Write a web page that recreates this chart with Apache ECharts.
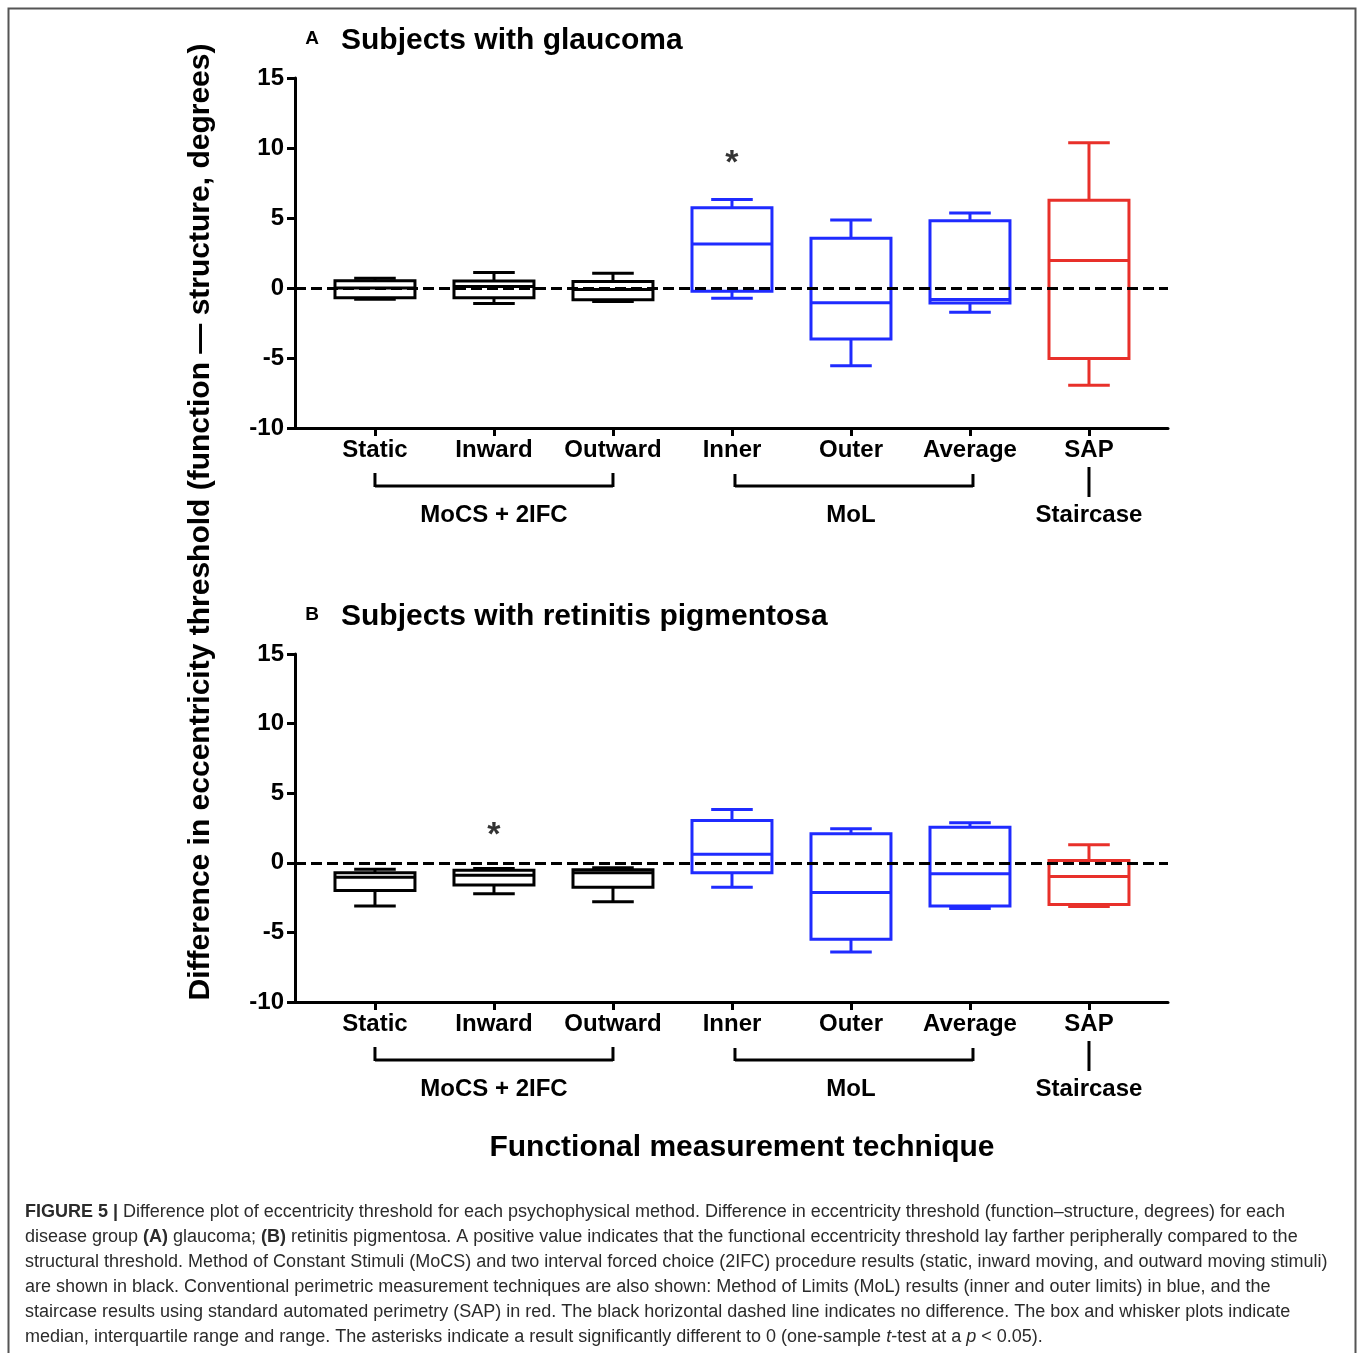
<!DOCTYPE html>
<html>
<head>
<meta charset="utf-8">
<script src="https://cdn.jsdelivr.net/npm/echarts@6/dist/echarts.min.js"></script>
<style>
  html, body { margin: 0; padding: 0; background: #fff; }
  #chart { width: 1358px; height: 1353px; }
</style>
</head>
<body>
<div id="chart"></div>
<script>
// categories along the x axis
const categories = ["Static", "Inward", "Outward", "Inner", "Outer", "Average", "SAP"];
const yTicks = [-10, -5, 0, 5, 10, 15];

// each row: [min, Q1, median, Q3, max]
const glaucoma = [
  [-0.81, -0.69, 0.0, 0.52, 0.69],
  [-1.1, -0.7, 0.1, 0.5, 1.1],
  [-0.96, -0.84, -0.1, 0.46, 1.05],
  [-0.74, -0.24, 3.15, 5.73, 6.33],
  [-5.56, -3.65, -1.05, 3.56, 4.85],
  [-1.74, -1.07, -0.82, 4.8, 5.35],
  [-6.95, -5.04, 1.96, 6.26, 10.37],
];
const retinitis = [
  [-3.11, -1.99, -1.03, -0.72, -0.46],
  [-2.23, -1.6, -0.89, -0.53, -0.41],
  [-2.8, -1.75, -0.72, -0.5, -0.36],
  [-1.75, -0.72, 0.62, 3.04, 3.83],
  [-6.41, -5.5, -2.13, 2.08, 2.44],
  [-3.28, -3.11, -0.79, 2.56, 2.87],
  [-3.14, -2.99, -0.98, 0.17, 1.29],
];

// asterisks: [category number, height]
const sigGlaucoma = [[4, 9.5]];
const sigRetinitis = [[2, 2.6]];

const BLUE = "#1f2bff";
const RED = "#e8302a";
const boxColors = ["#000", "#000", "#000", BLUE, BLUE, BLUE, RED];
const FONT = "'Liberation Sans', Arial, Helvetica, sans-serif";

const chart = echarts.init(document.getElementById("chart"), null, { renderer: "canvas" });

const toBoxData = (rows) => rows.map((r, i) => [i + 1, ...r]);

const renderBox = (params, api) => {
  const x = api.value(0);
  const low = api.coord([x, api.value(1)]);
  const q1 = api.coord([x, api.value(2)]);
  const med = api.coord([x, api.value(3)]);
  const q3 = api.coord([x, api.value(4)]);
  const high = api.coord([x, api.value(5)]);
  const cx = low[0];
  const boxW = api.size([1, 0])[0] * 0.672;
  const capW = boxW * 0.52;
  const color = boxColors[params.dataIndex];
  const st = { stroke: color, lineWidth: 3, fill: null };
  const line = (x1, y1, x2, y2) => ({ type: "line", shape: { x1, y1, x2, y2 }, style: st });
  return {
    type: "group",
    children: [
      line(cx, q3[1], cx, high[1]),
      line(cx - capW / 2, high[1], cx + capW / 2, high[1]),
      line(cx, q1[1], cx, low[1]),
      line(cx - capW / 2, low[1], cx + capW / 2, low[1]),
      { type: "rect", shape: { x: cx - boxW / 2, y: q3[1], width: boxW, height: q1[1] - q3[1] }, style: st },
      line(cx - boxW / 2, med[1], cx + boxW / 2, med[1]),
    ],
  };
};

const grids = [
  { left: 295, top: 78, width: 873, height: 350 },
  { left: 295, top: 654, width: 873, height: 348 },
];

const xAxisCfg = (gi) => ({
  type: "value",
  gridIndex: gi,
  min: 0.328,
  max: 7.664,
  splitLine: { show: false },
  axisLine: { show: true, onZero: false, lineStyle: { color: "#000", width: 3 } },
  axisTick: { show: true, length: 8, customValues: categories.map((c, i) => i + 1), lineStyle: { color: "#000", width: 3 } },
  axisLabel: {
    customValues: categories.map((c, i) => i + 1),
    formatter: (v) => categories[Math.round(v) - 1] || "",
    color: "#000", fontFamily: FONT, fontWeight: "bold", fontSize: 24, margin: 10,
  },
});

const yAxisCfg = (gi) => ({
  type: "value",
  gridIndex: gi,
  min: yTicks[0],
  max: yTicks[yTicks.length - 1],
  interval: 5,
  splitLine: { show: false },
  axisLine: { show: true, lineStyle: { color: "#000", width: 3 } },
  axisTick: { show: true, length: 8, lineStyle: { color: "#000", width: 3 } },
  axisLabel: { color: "#000", fontFamily: FONT, fontWeight: "bold", fontSize: 24, margin: 11 },
});

const zeroLine = (gi) => ({
  type: "line",
  xAxisIndex: gi,
  yAxisIndex: gi,
  data: [],
  silent: true,
  z: 5,
  markLine: {
    silent: true,
    symbol: "none",
    label: { show: false },
    lineStyle: { color: "#000", width: 3, type: [11, 5] },
    data: [{ yAxis: 0 }],
  },
});

const starSeries = (gi, pts) => ({
  type: "scatter",
  xAxisIndex: gi,
  yAxisIndex: gi,
  data: pts,
  symbolSize: 0,
  silent: true,
  label: {
    show: true, position: "inside", formatter: "*", offset: [0, 9],
    color: "#000", fontFamily: FONT, fontWeight: "bold", fontSize: 34,
  },
});

const option = {
  animation: false,
  backgroundColor: "#fff",
  grid: grids,
  xAxis: [xAxisCfg(0), xAxisCfg(1)],
  yAxis: [yAxisCfg(0), yAxisCfg(1)],
  series: [
    { type: "custom", xAxisIndex: 0, yAxisIndex: 0, data: toBoxData(glaucoma), renderItem: renderBox, encode: { x: 0, y: [1, 2, 3, 4, 5] }, z: 3 },
    { type: "custom", xAxisIndex: 1, yAxisIndex: 1, data: toBoxData(retinitis), renderItem: renderBox, encode: { x: 0, y: [1, 2, 3, 4, 5] }, z: 3 },
    zeroLine(0),
    zeroLine(1),
    starSeries(0, sigGlaucoma),
    starSeries(1, sigRetinitis),
  ],
};

chart.setOption(option);

// brackets, titles and caption
const txt = (text, x, y, size, opts = {}) => ({
  type: "text",
  x, y,
  rotation: opts.rotation || 0,
  style: {
    text,
    fill: opts.fill || "#000",
    font: `${opts.weight || "bold"} ${size}px ${FONT}`,
    textAlign: opts.align || "center",
    textVerticalAlign: "middle",
    align: opts.align || "center",
    verticalAlign: "middle",
    rich: opts.rich,
  },
});
const seg = (x1, y1, x2, y2) => ({
  type: "line",
  shape: { x1, y1, x2, y2 },
  style: { stroke: "#000", lineWidth: 3 },
});

const graphics = [
  { type: "rect", shape: { x: 8.5, y: 8.5, width: 1347, height: 1400 }, style: { stroke: "#555", lineWidth: 2, fill: null } },
];

const panelTitles = [["A", "Subjects with glaucoma"], ["B", "Subjects with retinitis pigmentosa"]];
grids.forEach((g, gi) => {
  const px = (v) => chart.convertToPixel({ xAxisIndex: gi }, v);
  const base = g.top + g.height;
  graphics.push(txt(panelTitles[gi][0], 312, g.top - 39, 19));
  graphics.push(txt(panelTitles[gi][1], 341, g.top - 37, 30, { align: "left" }));
  // MoCS + 2IFC
  graphics.push(seg(px(1), base + 45, px(1), base + 59));
  graphics.push(seg(px(1), base + 58, px(3), base + 58));
  graphics.push(seg(px(3), base + 45, px(3), base + 59));
  graphics.push(txt("MoCS + 2IFC", px(2), base + 87, 24));
  // MoL
  graphics.push(seg(px(4) + 3, base + 46, px(4) + 3, base + 59));
  graphics.push(seg(px(4) + 3, base + 58, px(6) + 3, base + 58));
  graphics.push(seg(px(6) + 3, base + 46, px(6) + 3, base + 59));
  graphics.push(txt("MoL", px(5), base + 87, 24));
  // SAP
  graphics.push(seg(px(7), base + 39, px(7), base + 69));
  graphics.push(txt("Staircase", px(7), base + 87, 24));
});

graphics.push(txt("Difference in eccentricity threshold (function \u2014 structure, degrees)", 201, 522, 30, { rotation: Math.PI / 2 }));
graphics.push(txt("Functional measurement technique", 742, 1148, 30));

const captionLines = [
  "{b|FIGURE 5 |} Difference plot of eccentricity threshold for each psychophysical method. Difference in eccentricity threshold (function\u2013structure, degrees) for each",
  "disease group {b|(A)} glaucoma; {b|(B)} retinitis pigmentosa. A positive value indicates that the functional eccentricity threshold lay farther peripherally compared to the",
  "structural threshold. Method of Constant Stimuli (MoCS) and two interval forced choice (2IFC) procedure results (static, inward moving, and outward moving stimuli)",
  "are shown in black. Conventional perimetric measurement techniques are also shown: Method of Limits (MoL) results (inner and outer limits) in blue, and the",
  "staircase results using standard automated perimetry (SAP) in red. The black horizontal dashed line indicates no difference. The box and whisker plots indicate",
  "median, interquartile range and range. The asterisks indicate a result significantly different to 0 (one-sample {i|t}-test at a {i|p} < 0.05).",
];
const capColor = "#2b2b2b";
const capSize = 18;
captionLines.forEach((line, i) => {
  graphics.push(txt(line, 25, 1212 + i * 25, capSize, {
    weight: "normal",
    align: "left",
    fill: capColor,
    rich: {
      b: { fontWeight: "bold", fontSize: capSize, fontFamily: FONT, fill: capColor, color: capColor },
      i: { fontStyle: "italic", fontSize: capSize, fontFamily: FONT, fill: capColor, color: capColor },
    },
  }));
});

chart.setOption({ graphic: { elements: graphics } });
</script>
</body>
</html>
